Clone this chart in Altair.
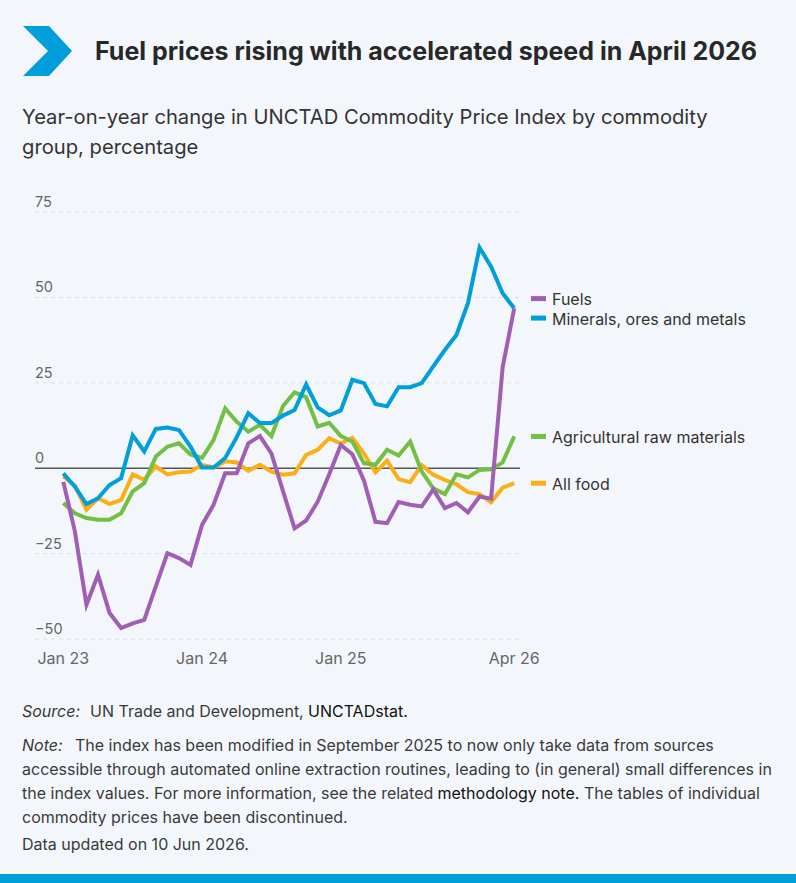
import altair as alt
import pandas as pd

# Monthly year-on-year change (%) of the UNCTAD Commodity Price Index, Jan 2023 - Apr 2026
months = pd.date_range("2023-01-01", "2026-04-01", freq="MS").strftime("%b %y").tolist()

fuels = [-4.0, -18.5, -40.0, -31.2, -42.4, -46.8, -45.4, -44.4, -34.6, -24.9,
         -26.3, -28.3, -16.6, -10.7, -1.5, -1.5, 7.3, 9.4, 4.3, -6.7,
         -17.6, -15.3, -9.8, -1.8, 6.8, 4.1, -3.6, -15.7, -16.1, -9.9,
         -10.7, -11.2, -6.2, -11.7, -10.2, -12.9, -8.3, -8.9, 29.6, 46.8]
minerals = [-1.5, -5.4, -10.5, -8.8, -4.9, -2.9, 9.6, 4.9, 11.5, 11.9,
            11.2, 6.3, 0.2, 0.2, 3.0, 9.1, 16.1, 13.2, 13.2, 15.4,
            17.0, 24.5, 17.8, 15.5, 16.9, 25.9, 24.9, 18.8, 18.1, 23.7,
            23.7, 24.9, 29.8, 34.6, 39.0, 48.3, 64.6, 59.0, 51.2, 46.8]
agri = [-10.2, -13.2, -14.6, -15.1, -15.1, -13.2, -6.8, -4.4, 3.4, 6.3,
        7.3, 4.0, 3.0, 8.3, 17.5, 13.6, 10.7, 12.7, 9.4, 18.2,
        22.2, 20.8, 12.2, 13.3, 9.4, 7.8, 1.5, 1.0, 5.4, 3.7,
        7.8, -1.0, -5.9, -7.6, -1.8, -2.7, -0.5, -0.3, 1.7, 9.3]
food = [-2.4, -5.1, -12.2, -8.8, -10.5, -9.3, -1.8, -3.4, 0.5, -1.8,
        -1.2, -1.0, 1.0, 0.2, 2.0, 1.7, -0.8, 1.0, -1.0, -1.9,
        -1.5, 3.9, 5.4, 8.8, 7.2, 8.9, 4.3, -1.2, 2.2, -3.2,
        -4.1, 0.9, -1.9, -3.4, -4.7, -7.0, -7.6, -10.0, -5.7, -4.4]

series_names = ["Fuels", "Minerals, ores and metals", "Agricultural raw materials", "All food"]
series_values = [fuels, minerals, agri, food]
series_colors = ["#a05fb4", "#009edb", "#72bf44", "#fbaf17"]

y_ticks = [-50, -25, 0, 25, 50, 75]
x_tick_labels = ["Jan 23", "Jan 24", "Jan 25", "Apr 26"]

FONT = "Inter"
TEXT = "#3a3a3a"
W, H = 485, 427
PAD = {"left": 35, "top": 212, "right": 276, "bottom": 244}

xs = alt.Scale(domain=[-2.45, 39.5], nice=False, zero=False)
ys = alt.Scale(domain=[-50, 75], nice=False, zero=False)

rows = []
for name, vals in zip(series_names, series_values):
    for i, v in enumerate(vals):
        rows.append({"series": name, "idx": i, "month": months[i], "value": v})
df = pd.DataFrame(rows)

# y gridlines, zero line and left-side tick labels
ticks_df = pd.DataFrame({"v": y_ticks})
grid = alt.Chart(ticks_df).transform_filter("datum.v != 0").mark_rule(
    color="#dadde0", strokeWidth=1, strokeDash=[4, 4]
).encode(y=alt.Y("v:Q", scale=ys, axis=None), x=alt.value(0), x2=alt.value(W))
zero = alt.Chart(ticks_df).transform_filter("datum.v == 0").mark_rule(
    color="#555555", strokeWidth=1.5
).encode(y=alt.Y("v:Q", scale=ys, axis=None), x=alt.value(0), x2=alt.value(W))
ylabels = alt.Chart(ticks_df).mark_text(
    align="left", baseline="alphabetic", dy=-5, font=FONT, fontSize=14.5, color="#666666"
).encode(y=alt.Y("v:Q", scale=ys, axis=None), x=alt.value(0), text="v:Q")

# x tick labels at the marked months
xt_df = pd.DataFrame({"label": x_tick_labels,
                      "idx": [months.index(m) for m in x_tick_labels]})
xlabels = alt.Chart(xt_df).mark_text(
    align="center", baseline="alphabetic", font=FONT, fontSize=16, color="#666666"
).encode(x=alt.X("idx:Q", scale=xs, axis=None), y=alt.value(H + 25), text="label:N")

# one line per commodity group; fuels drawn last so it sits on top
draw_order = ["All food", "Agricultural raw materials", "Minerals, ores and metals", "Fuels"]
lines = []
for name in draw_order:
    color = series_colors[series_names.index(name)]
    lines.append(
        alt.Chart(df[df.series == name]).mark_line(strokeWidth=4, color=color).encode(
            x=alt.X("idx:Q", scale=xs, axis=None),
            y=alt.Y("value:Q", scale=ys, axis=None),
            tooltip=["series:N", "month:N", "value:Q"],
        )
    )

# direct labels at the line ends, spread apart so they do not collide
min_gap = 19.5 * (ys.domain[1] - ys.domain[0]) / H
ends = sorted(
    ((vals[-1], k, n) for k, (n, vals) in enumerate(zip(series_names, series_values))),
    key=lambda e: (-e[0], e[1]),
)
pos = [e[0] for e in ends]
for _ in range(50):
    moved = False
    for k in range(len(pos) - 1):
        gap = pos[k] - pos[k + 1]
        if gap < min_gap - 1e-9:
            shift = (min_gap - gap) / 2
            pos[k] += shift
            pos[k + 1] -= shift
            moved = True
    if not moved:
        break
leg_df = pd.DataFrame({"series": [e[2] for e in ends], "ly": pos})
leg_df["color"] = [series_colors[series_names.index(s)] for s in leg_df.series]
legend_marks = alt.Chart(leg_df).mark_rule(strokeWidth=5, dy=1.5).encode(
    y=alt.Y("ly:Q", scale=ys, axis=None), x=alt.value(496), x2=alt.value(511),
    color=alt.Color("color:N", scale=None, legend=None),
)
legend_text = alt.Chart(leg_df).mark_text(
    align="left", baseline="middle", dy=1.5, font=FONT, fontSize=16, color="#333333"
).encode(y=alt.Y("ly:Q", scale=ys, axis=None), x=alt.value(517), text="series:N")


def label(t, x, y, size=16, weight="normal", style="normal", color=TEXT):
    return alt.Chart(pd.DataFrame({"t": [t]})).mark_text(
        align="left", baseline="alphabetic", font=FONT, fontSize=size,
        fontWeight=weight, fontStyle=style, color=color,
    ).encode(x=alt.value(x), y=alt.value(y), text="t:N")


# header: chevron, headline and subtitle
chevron = alt.Chart(pd.DataFrame({"k": [0]})).mark_point(
    shape="M-0.98,-1L0.06,-1L0.98,0L0.06,1L-0.98,1L0.02,0Z",
    filled=True, fill="#009edb", opacity=1, strokeWidth=0, size=2500,
).encode(x=alt.value(12.5), y=alt.value(-161))
title = label("Fuel prices rising with accelerated speed in April 2026", 60, -152,
              size=25, weight="bold", color="#282828")
sub1 = label("Year-on-year change in UNCTAD Commodity Price Index by commodity", -13, -88,
             size=20.2, color="#333333")
sub2 = label("group, percentage", -13, -58, size=20.2, color="#333333")

# footer notes
foot = [
    label("Source:", -13, 505, style="italic"),
    label("UN Trade and Development,", 55, 505),
    label("UNCTADstat.", 273, 505, color="#111111"),
    label("Note:", -13, 539, style="italic"),
    label("The index has been modified in September 2025 to now only take data from sources", 40, 539),
    label("accessible through automated online extraction routines, leading to (in general) small differences in", -13, 562.5),
    label("the index values. For more information, see the related", -13, 586.5),
    label("methodology note.", 402.5, 586.5, color="#111111"),
    label("The tables of individual", 549, 586.5),
    label("commodity prices have been discontinued.", -13, 610.5),
    label("Data updated on 10 Jun 2026.", -13, 638),
]
bottom_bar = alt.Chart(pd.DataFrame({"k": [0]})).mark_rect(color="#009edb").encode(
    x=alt.value(-35), x2=alt.value(W + PAD["right"]),
    y=alt.value(662), y2=alt.value(H + PAD["bottom"]),
)

chart = alt.layer(
    grid, zero, ylabels, xlabels, *lines, legend_marks, legend_text,
    chevron, title, sub1, sub2, *foot, bottom_bar,
).properties(
    width=W, height=H, padding=PAD, autosize=alt.AutoSizeParams(type="none"),
).configure(background="#f3f7fb").configure_view(stroke=None)

chart.save("out.html", embed_options={"renderer": "svg", "actions": False})
